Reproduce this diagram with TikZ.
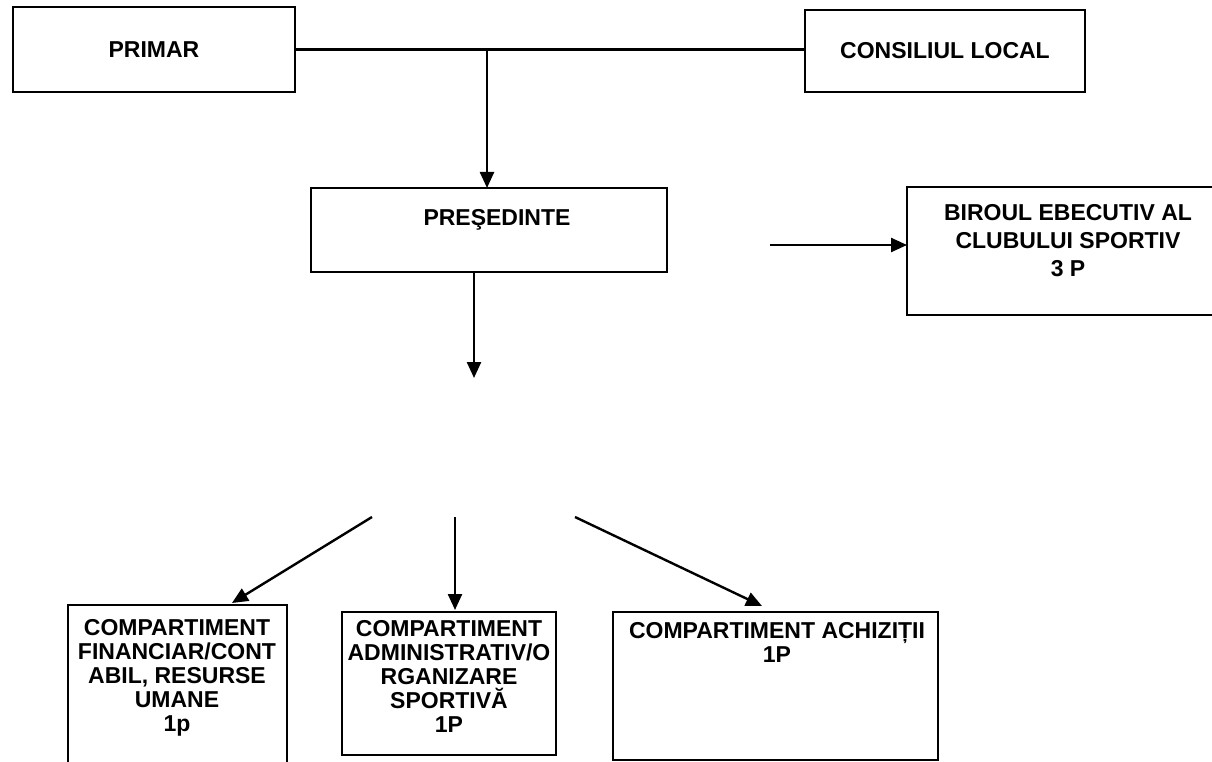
\documentclass[tikz,border=0pt]{standalone}
\usepackage{fontspec}
\setmainfont{Liberation Sans}
\usetikzlibrary{arrows.meta, positioning}
\tikzset{boxfont/.style={font=\bfseries\fontsize{23}{24}\selectfont}}
\tikzset{unit/.style={draw, line width=2.4pt, inner sep=0pt, outer sep=0pt, boxfont}}
\tikzset{unittext/.style={inner sep=0pt, align=center, anchor=north, boxfont}}
\tikzset{widetext/.style={unittext, font=\bfseries\fontsize{23}{28}\selectfont}}
\tikzset{link/.style={line width=2.4pt}}
\tikzset{linkarrow/.style={link, -{Triangle[length=16pt, width=14pt]}}}

\begin{document}
\begin{tikzpicture}[x=1pt, y=-1pt]
    \useasboundingbox[fill=white] (0,0) rectangle (1212,762);
    \clip (0,0) rectangle (1212,762);
    \begin{scope}
        % top level
        \node[unit, minimum width=282pt, minimum height=85pt] (primar) at (154,49.5) {PRIMAR};
        \node[unit, minimum width=280pt, minimum height=82pt] (consiliu) at (945,51) {CONSILIUL LOCAL};

        % management
        \node[unit, minimum width=356pt, minimum height=84pt] (presedinte) at (489,230) {};
        \node[unittext] (presedinteT) at (497,209.5) {PREŞEDINTE};

        \node[unit, minimum width=322pt, minimum height=128pt] (birou) at (1068,251) {};
        \node[widetext] (birouT) at (1068,204) {BIROUL EBECUTIV AL\\CLUBULUI SPORTIV\\3 P};

        % departments
        \node[unit, minimum width=219pt, minimum height=195pt] (financiar) at (177.5,702.5) {};
        \node[unittext] (financiarT) at (177,619) {COMPARTIMENT\\FINANCIAR/CONT\\ABIL, RESURSE\\UMANE\\1p};

        \node[unit, minimum width=214pt, minimum height=143pt] (admin) at (449,683.5) {};
        \node[unittext] (adminT) at (449,620) {COMPARTIMENT\\ADMINISTRATIV/O\\RGANIZARE\\SPORTIVĂ\\1P};

        \node[unit, minimum width=325pt, minimum height=148pt] (achizitii) at (775.5,686) {};
        \node[unittext] (achizitiiT) at (777,622) {COMPARTIMENT ACHIZIȚII\\1P};

        \coordinate (split) at (487,49.5);
        \coordinate (presdown) at (474,378);
        \coordinate (birin) at (770,245);
        \coordinate (fanA) at (372,517);
        \coordinate (fanB) at (455,517);
        \coordinate (fanC) at (575,517);

        \draw [link] (primar.east) -- (consiliu.west |- primar.east);
        \draw [linkarrow] (split) -- (split |- presedinte.north);
        \draw [linkarrow] (presdown |- presedinte.south) -- (presdown);
        \draw [linkarrow] (birin) -- (birin -| birou.west);

        \draw [linkarrow] (fanA) -- ([xshift=54.5pt, yshift=2pt]financiar.north);
        \draw [linkarrow] (fanB) -- ([xshift=6pt, yshift=2pt]admin.north);
        \draw [linkarrow] (fanC) -- ([xshift=-13.5pt, yshift=6pt]achizitii.north);
    \end{scope}
\end{tikzpicture}
\end{document}
